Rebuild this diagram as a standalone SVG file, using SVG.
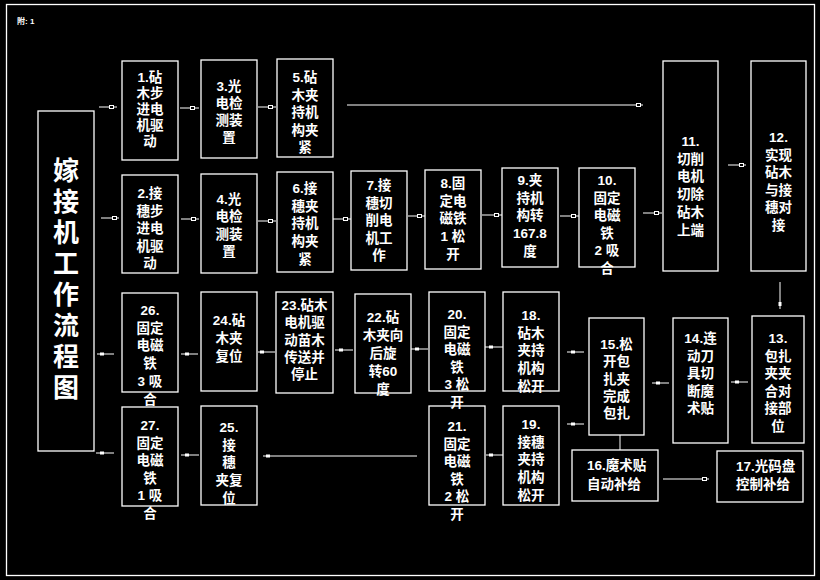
<svg xmlns="http://www.w3.org/2000/svg" width="820" height="580" viewBox="0 0 820 580">
<style>
.b{fill:none;stroke:#fff;stroke-width:1.3}
.t{fill:#fff;font-family:"Liberation Sans","Noto Sans CJK SC",sans-serif;font-size:13.5px;font-weight:bold;text-anchor:middle}
.l{text-anchor:start}
.c line{stroke:#fff;stroke-width:1}
.mo{fill:#000;stroke:#fff;stroke-width:1}
.mf{fill:#fff}
</style>
<rect x="0" y="0" width="820" height="580" fill="#000"/>
<rect x="6.5" y="4.5" width="808" height="571" fill="none" stroke="#fff" stroke-width="1.3"/>
<text x="17" y="24" fill="#fff" font-family="Liberation Sans, Noto Sans CJK SC, sans-serif" font-size="8" font-weight="bold">附: 1</text>

<g id="title"><rect class="b" x="38" y="111" width="56" height="340"/>
<text class="t" style="font-size:26px" x="66" y="180"><tspan x="66">嫁</tspan><tspan x="66" dy="31">接</tspan><tspan x="66" dy="31">机</tspan><tspan x="66" dy="31">工</tspan><tspan x="66" dy="31">作</tspan><tspan x="66" dy="31">流</tspan><tspan x="66" dy="31">程</tspan><tspan x="66" dy="31">图</tspan></text></g>

<g id="n1"><rect class="b" x="122" y="61" width="56" height="99"/><text class="t" y="82"><tspan x="150">1.砧</tspan><tspan x="150" dy="16">木步</tspan><tspan x="150" dy="16">进电</tspan><tspan x="150" dy="16">机驱</tspan><tspan x="150" dy="16">动</tspan></text></g>
<g id="n3"><rect class="b" x="201" y="60" width="56" height="98"/><text class="t" y="91"><tspan x="229">3.光</tspan><tspan x="229" dy="17">电检</tspan><tspan x="229" dy="17">测装</tspan><tspan x="229" dy="17">置</tspan></text></g>
<g id="n5"><rect class="b" x="277" y="59" width="56" height="98"/><text class="t" y="82"><tspan x="305">5.砧</tspan><tspan x="305" dy="17.5">木夹</tspan><tspan x="305" dy="17.5">持机</tspan><tspan x="305" dy="17.5">构夹</tspan><tspan x="305" dy="17.5">紧</tspan></text></g>
<g id="n11"><rect class="b" x="663" y="61" width="55" height="210"/><text class="t" y="146"><tspan x="690.5">11.</tspan><tspan x="690.5" dy="17.7">切削</tspan><tspan x="690.5" dy="17.7">电机</tspan><tspan x="690.5" dy="17.7">切除</tspan><tspan x="690.5" dy="17.7">砧木</tspan><tspan x="690.5" dy="17.7">上端</tspan></text></g>
<g id="n12"><rect class="b" x="751" y="61" width="55" height="210"/><text class="t" y="142"><tspan x="778.5">12.</tspan><tspan x="778.5" dy="17.5">实现</tspan><tspan x="778.5" dy="17.5">砧木</tspan><tspan x="778.5" dy="17.5">与接</tspan><tspan x="778.5" dy="17.5">穗对</tspan><tspan x="778.5" dy="17.5">接</tspan></text></g>

<g id="n2"><rect class="b" x="122" y="175" width="56" height="98"/><text class="t" y="198"><tspan x="150">2.接</tspan><tspan x="150" dy="17.5">穗步</tspan><tspan x="150" dy="17.5">进电</tspan><tspan x="150" dy="17.5">机驱</tspan><tspan x="150" dy="17.5">动</tspan></text></g>
<g id="n4"><rect class="b" x="201" y="174" width="56" height="99"/><text class="t" y="204"><tspan x="229">4.光</tspan><tspan x="229" dy="17.3">电检</tspan><tspan x="229" dy="17.3">测装</tspan><tspan x="229" dy="17.3">置</tspan></text></g>
<g id="n6"><rect class="b" x="277" y="172" width="56" height="100"/><text class="t" y="193"><tspan x="305">6.接</tspan><tspan x="305" dy="17.7">穗夹</tspan><tspan x="305" dy="17.7">持机</tspan><tspan x="305" dy="17.7">构夹</tspan><tspan x="305" dy="17.7">紧</tspan></text></g>
<g id="n7"><rect class="b" x="351" y="171" width="56" height="99"/><text class="t" y="190"><tspan x="379">7.接</tspan><tspan x="379" dy="17.5">穗切</tspan><tspan x="379" dy="17.5">削电</tspan><tspan x="379" dy="17.5">机工</tspan><tspan x="379" dy="17.5">作</tspan></text></g>
<g id="n8"><rect class="b" x="425" y="170" width="56" height="99"/><text class="t" y="188"><tspan x="453">8.固</tspan><tspan x="453" dy="17.7">定电</tspan><tspan x="453" dy="17.7">磁铁</tspan><tspan x="453" dy="17.7">1 松</tspan><tspan x="453" dy="17.7">开</tspan></text></g>
<g id="n9"><rect class="b" x="502" y="168" width="56" height="99"/><text class="t" y="185"><tspan x="530">9.夹</tspan><tspan x="530" dy="17.7">持机</tspan><tspan x="530" dy="17.7">构转</tspan><tspan x="530" dy="17.7">167.8</tspan><tspan x="530" dy="17.7">度</tspan></text></g>
<g id="n10"><rect class="b" x="579" y="168" width="56" height="99"/><text class="t" y="185"><tspan x="607">10.</tspan><tspan x="607" dy="17.6">固定</tspan><tspan x="607" dy="17.6">电磁</tspan><tspan x="607" dy="17.6">铁</tspan><tspan x="607" dy="17.6">2 吸</tspan><tspan x="607" dy="17.6">合</tspan></text></g>

<g id="n26"><rect class="b" x="122" y="293" width="56" height="99"/><text class="t" y="315"><tspan x="150">26.</tspan><tspan x="150" dy="17.7">固定</tspan><tspan x="150" dy="17.7">电磁</tspan><tspan x="150" dy="17.7">铁</tspan><tspan x="150" dy="17.7">3 吸</tspan><tspan x="150" dy="17.7">合</tspan></text></g>
<g id="n24"><rect class="b" x="201" y="292" width="56" height="99"/><text class="t" y="325"><tspan x="229">24.砧</tspan><tspan x="229" dy="18">木夹</tspan><tspan x="229" dy="18">复位</tspan></text></g>
<g id="n23"><rect class="b" x="276" y="292" width="57" height="101"/><text class="t" y="310"><tspan x="304.5">23.砧木</tspan><tspan x="304.5" dy="17.3">电机驱</tspan><tspan x="304.5" dy="17.3">动苗木</tspan><tspan x="304.5" dy="17.3">传送并</tspan><tspan x="304.5" dy="17.3">停止</tspan></text></g>
<g id="n22"><rect class="b" x="355" y="294" width="56" height="99"/><text class="t" y="322"><tspan x="383">22.砧</tspan><tspan x="383" dy="18">木夹向</tspan><tspan x="383" dy="18">后旋</tspan><tspan x="383" dy="18">转60</tspan><tspan x="383" dy="18">度</tspan></text></g>
<g id="n20"><rect class="b" x="429" y="292" width="56" height="99"/><text class="t" y="319"><tspan x="457">20.</tspan><tspan x="457" dy="17.6">固定</tspan><tspan x="457" dy="17.6">电磁</tspan><tspan x="457" dy="17.6">铁</tspan><tspan x="457" dy="17.6">3 松</tspan><tspan x="457" dy="17.6">开</tspan></text></g>
<g id="n18"><rect class="b" x="503" y="292" width="56" height="99"/><text class="t" y="320"><tspan x="531">18.</tspan><tspan x="531" dy="17.7">砧木</tspan><tspan x="531" dy="17.7">夹持</tspan><tspan x="531" dy="17.7">机构</tspan><tspan x="531" dy="17.7">松开</tspan></text></g>
<g id="n15"><rect class="b" x="589" y="318" width="55" height="117"/><text class="t" y="349"><tspan x="616.5">15.松</tspan><tspan x="616.5" dy="17.3">开包</tspan><tspan x="616.5" dy="17.3">扎夹</tspan><tspan x="616.5" dy="17.3">完成</tspan><tspan x="616.5" dy="17.3">包扎</tspan></text></g>
<g id="n14"><rect class="b" x="673" y="318" width="55" height="125"/><text class="t" y="343"><tspan x="700.5">14.连</tspan><tspan x="700.5" dy="17.5">动刀</tspan><tspan x="700.5" dy="17.5">具切</tspan><tspan x="700.5" dy="17.5">断魔</tspan><tspan x="700.5" dy="17.5">术贴</tspan></text></g>
<g id="n13"><rect class="b" x="752" y="316" width="52" height="127"/><text class="t" y="343"><tspan x="778">13.</tspan><tspan x="778" dy="17.5">包扎</tspan><tspan x="778" dy="17.5">夹夹</tspan><tspan x="778" dy="17.5">合对</tspan><tspan x="778" dy="17.5">接部</tspan><tspan x="778" dy="17.5">位</tspan></text></g>

<g id="n27"><rect class="b" x="122" y="407" width="56" height="99"/><text class="t" y="430"><tspan x="150">27.</tspan><tspan x="150" dy="17.6">固定</tspan><tspan x="150" dy="17.6">电磁</tspan><tspan x="150" dy="17.6">铁</tspan><tspan x="150" dy="17.6">1 吸</tspan><tspan x="150" dy="17.6">合</tspan></text></g>
<g id="n25"><rect class="b" x="201" y="406" width="56" height="99"/><text class="t" y="432"><tspan x="229">25.</tspan><tspan x="229" dy="17.7">接</tspan><tspan x="229" dy="17.7">穗</tspan><tspan x="229" dy="17.7">夹复</tspan><tspan x="229" dy="17.7">位</tspan></text></g>
<g id="n21"><rect class="b" x="429" y="406" width="56" height="99"/><text class="t" y="431"><tspan x="457">21.</tspan><tspan x="457" dy="17.6">固定</tspan><tspan x="457" dy="17.6">电磁</tspan><tspan x="457" dy="17.6">铁</tspan><tspan x="457" dy="17.6">2 松</tspan><tspan x="457" dy="17.6">开</tspan></text></g>
<g id="n19"><rect class="b" x="503" y="406" width="56" height="99"/><text class="t" y="429"><tspan x="531">19.</tspan><tspan x="531" dy="17.7">接穗</tspan><tspan x="531" dy="17.7">夹持</tspan><tspan x="531" dy="17.7">机构</tspan><tspan x="531" dy="17.7">松开</tspan></text></g>
<g id="n16"><rect class="b" x="572" y="450" width="86" height="51"/><text class="t l" y="470"><tspan x="587">16.魔术贴</tspan><tspan x="587" dy="19">自动补给</tspan></text></g>
<g id="n17"><rect class="b" x="717" y="451" width="86" height="51"/><text class="t l" y="471"><tspan x="736">17.光码盘</tspan><tspan x="736" dy="18">控制补给</tspan></text></g>

<g id="connectors" class="c">
<line x1="99" y1="107" x2="117" y2="107"/><rect class="mo" x="109.5" y="105.5" width="4" height="3"/>
<line x1="180" y1="108" x2="199" y2="108"/><rect class="mo" x="190.5" y="106.5" width="4" height="3"/>
<line x1="258" y1="107" x2="276" y2="107"/><rect class="mo" x="268.5" y="105.5" width="4" height="3"/>
<line x1="347" y1="105" x2="643" y2="105"/><rect class="mo" x="636.5" y="103.5" width="4" height="3"/>
<line x1="728" y1="165" x2="746" y2="165"/><rect class="mo" x="739.5" y="163.5" width="4" height="3"/>
<line x1="101" y1="218" x2="119" y2="218"/><rect class="mo" x="112.5" y="216.5" width="4" height="3"/>
<line x1="181" y1="219" x2="199" y2="219"/><rect class="mo" x="191.5" y="217.5" width="4" height="3"/>
<line x1="258" y1="221" x2="276" y2="221"/><rect class="mo" x="268.5" y="219.5" width="4" height="3"/>
<line x1="333" y1="219" x2="351" y2="219"/><rect class="mo" x="343.5" y="217.5" width="4" height="3"/>
<line x1="408" y1="216" x2="425" y2="216"/><rect class="mo" x="417.5" y="214.5" width="4" height="3"/>
<line x1="482" y1="215" x2="502" y2="215"/><rect class="mo" x="494.5" y="213.5" width="4" height="3"/>
<line x1="560" y1="216" x2="579" y2="216"/><rect class="mo" x="571.5" y="214.5" width="4" height="3"/>
<line x1="643" y1="213" x2="662" y2="213"/><rect class="mo" x="654.5" y="211.5" width="4" height="3"/>
<line x1="780" y1="282" x2="780" y2="309"/><rect class="mf" x="778.5" y="302" width="3" height="4"/>
<line x1="731" y1="382" x2="748" y2="382"/><rect class="mf" x="735" y="380.5" width="4" height="3"/>
<line x1="652" y1="383" x2="669" y2="383"/><rect class="mf" x="656" y="381.5" width="4" height="3"/>
<line x1="567" y1="352" x2="584" y2="352"/><rect class="mf" x="571" y="350.5" width="4" height="3"/>
<line x1="567" y1="424" x2="584" y2="424"/><rect class="mf" x="571" y="422.5" width="4" height="3"/>
<line x1="485" y1="347" x2="503" y2="347"/><rect class="mf" x="489" y="345.5" width="4" height="3"/>
<line x1="486" y1="455" x2="503" y2="455"/><rect class="mf" x="489" y="453.5" width="4" height="3"/>
<line x1="411" y1="349" x2="428" y2="349"/><rect class="mf" x="415" y="347.5" width="4" height="3"/>
<line x1="335" y1="350" x2="353" y2="350"/><rect class="mf" x="339" y="348.5" width="4" height="3"/>
<line x1="258" y1="352" x2="275" y2="352"/><rect class="mf" x="260" y="350.5" width="4" height="3"/>
<line x1="181" y1="354" x2="198" y2="354"/><rect class="mf" x="185" y="352.5" width="4" height="3"/>
<line x1="97" y1="354" x2="114" y2="354"/><rect class="mf" x="100" y="352.5" width="4" height="3"/>
<line x1="263" y1="456" x2="417" y2="456"/><rect class="mf" x="266" y="454.5" width="4" height="3"/>
<line x1="181" y1="455" x2="199" y2="455"/><rect class="mf" x="185" y="453.5" width="4" height="3"/>
<line x1="96" y1="453" x2="114" y2="453"/><rect class="mf" x="100" y="451.5" width="4" height="3"/>
<line x1="663" y1="479" x2="709" y2="479"/><rect class="mo" x="702.5" y="477.5" width="4" height="3"/>
<line x1="620" y1="435" x2="620" y2="450"/>
</g>
</svg>
